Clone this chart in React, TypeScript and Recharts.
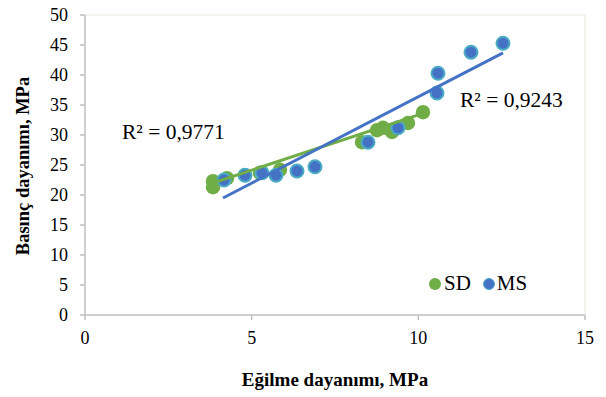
import { ScatterChart, Scatter, XAxis, YAxis, ReferenceLine } from 'recharts'

const sdX = [3.84, 3.84, 4.26, 4.8, 5.25, 5.85, 8.31, 8.76, 8.94, 9.21, 9.69, 10.14]
const sdY = [22.3, 21.3, 22.8, 23.3, 23.7, 24.2, 28.8, 30.8, 31.2, 30.5, 32.0, 33.8]
const msX = [4.17, 4.8, 5.31, 5.73, 6.36, 6.9, 8.49, 9.39, 10.56, 10.59, 11.58, 12.54]
const msY = [22.5, 23.3, 23.7, 23.3, 24.0, 24.7, 28.8, 31.2, 37.0, 40.3, 43.8, 45.3]

// trendline end points (Excel linear trend)
const sdTrendX = [3.84, 10.14]
const sdTrendY = [22.0, 33.6]
const msTrendX = [4.14, 12.54]
const msTrendY = [19.5, 43.7]

const xTicks = [0, 5, 10, 15]
const yTicks = [0, 5, 10, 15, 20, 25, 30, 35, 40, 45, 50]

const toPts = (xs: number[], ys: number[]) => xs.map((x, i) => ({ x, y: ys[i] }))
const sdData = toPts(sdX, sdY)
const msData = toPts(msX, msY)
const sdTrend = toPts(sdTrendX, sdTrendY)
const msTrend = toPts(msTrendX, msTrendY)

const GREEN = '#70ad47'
const BLUE = '#4472c4'
const RING = '#4bacc6'
const AXIS = '#bfbfbf'
const FONT = '"Liberation Serif", "Times New Roman", serif'

const SdDot = (p: any) => <circle cx={p.cx} cy={p.cy} r={7.2} fill={GREEN} />
const MsDot = (p: any) => <circle cx={p.cx} cy={p.cy} r={6.5} fill={BLUE} stroke={RING} strokeWidth={2} />
const NoDot = () => <g />

export default function App() {
  return (
    <div style={{ position: 'absolute', left: 0, top: 0, width: 606, height: 397, background: '#fff', fontFamily: FONT }}>
      <ScatterChart width={606} height={397} margin={{ top: 15, right: 21, bottom: 42, left: 25 }}>
        <ReferenceLine y={50} stroke="#ebe7dc" strokeWidth={1} />
        <ReferenceLine x={15} stroke="#ebe7dc" strokeWidth={1} />
        <XAxis type="number" dataKey="x" domain={[0, 15]} ticks={xTicks} height={40}
          stroke={AXIS} strokeWidth={1.5} tickSize={5} tickMargin={11}
          tick={{ fill: '#000', fontSize: 18, fontFamily: FONT }} allowDataOverflow />
        <YAxis type="number" dataKey="y" domain={[0, 50]} ticks={yTicks} width={60}
          stroke={AXIS} strokeWidth={1.5} tickSize={5} tickMargin={12}
          tick={{ fill: '#000', fontSize: 18, fontFamily: FONT }} allowDataOverflow />
        <Scatter name="SD" data={sdData} shape={SdDot} isAnimationActive={false} />
        <Scatter name="MS" data={msData} shape={MsDot} isAnimationActive={false} />
        <Scatter data={sdTrend} shape={NoDot} line={{ stroke: GREEN, strokeWidth: 3 }} isAnimationActive={false} />
        <Scatter data={msTrend} shape={NoDot} line={{ stroke: BLUE, strokeWidth: 3 }} isAnimationActive={false} />
      </ScatterChart>
      <div style={{ position: 'absolute', left: 429, top: 271, display: 'flex', alignItems: 'center', fontSize: 21, color: '#000' }}>
        <span style={{ width: 12, height: 12, borderRadius: 6, background: GREEN, marginRight: 3 }} />
        <span style={{ marginRight: 12 }}>SD</span>
        <span style={{ width: 12, height: 12, borderRadius: 6, background: BLUE, border: `1.5px solid ${RING}`, marginRight: 2, boxSizing: 'border-box' }} />
        <span>MS</span>
      </div>
      <div style={{ position: 'absolute', left: 122, top: 120, fontSize: 21.5, whiteSpace: 'nowrap' }}>R² = 0,9771</div>
      <div style={{ position: 'absolute', left: 460, top: 88, fontSize: 21.5, whiteSpace: 'nowrap' }}>R² = 0,9243</div>
      <div style={{ position: 'absolute', left: 235, top: 369, width: 200, textAlign: 'center', fontSize: 19, fontWeight: 'bold', whiteSpace: 'nowrap' }}>
        Eğilme dayanımı, MPa
      </div>
      <div style={{ position: 'absolute', left: 23, top: 166, fontSize: 18.5, fontWeight: 'bold', whiteSpace: 'nowrap', transform: 'translate(-50%, -50%) rotate(-90deg)' }}>
        Basınç dayanımı, MPa
      </div>
    </div>
  )
}
